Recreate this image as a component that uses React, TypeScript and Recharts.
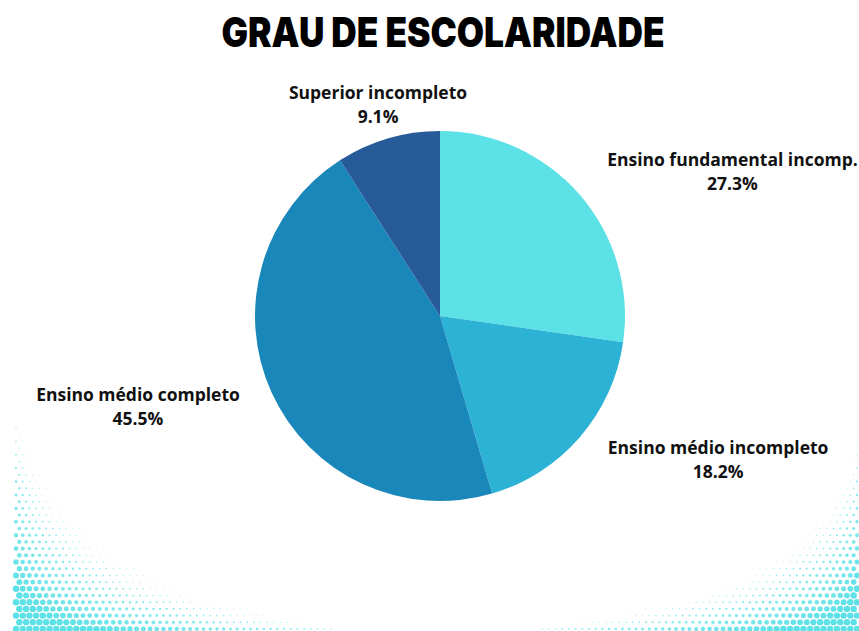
import { PieChart, Pie, Cell } from 'recharts'

const categories = ['Ensino fundamental incomp.', 'Ensino médio incompleto', 'Ensino médio completo', 'Superior incompleto']
const counts = [3, 2, 5, 1]
const percentLabels = ['27.3%', '18.2%', '45.5%', '9.1%']
const colors = ['#5ce1e6', '#2bb2d5', '#1a87bb', '#265a99']

const data = categories.map((name, i) => ({ name, value: counts[i], pct: percentLabels[i] }))

// label layout (horizontal reach of each label around the pie)
const labelRx = [387, 368, 332, 220]
const labelRy = 220
const CX = 440
const CY = 316
const RAD = Math.PI / 180

// halftone decoration in the bottom corners
function Dots() {
  const dots: any[] = []
  const step = 6.7
  const size = (s: number) => Math.min(1, Math.max(0, (1.3 - s) / 1.3) * 1.9)
  for (let row = 0; row * step < 220; row++) {
    const y = 629 - row * step
    const off = row % 2 ? step / 2 : 0
    for (let col = 0; col * step < 320; col++) {
      const xl = 16 + col * step + off
      const fl = size(Math.sqrt((xl - 12) / 300) + Math.sqrt((631 - y) / 185))
      if (fl > 0.1) dots.push(<circle key={'l' + row + '-' + col} cx={xl} cy={y} r={3.2 * fl} fill="#5ce1e6" opacity={0.5 + 0.5 * fl} />)
      const xr = 857 - col * step - off
      const fr = size(Math.sqrt((859 - xr) / 300) + Math.sqrt((631 - y) / 150))
      if (fr > 0.1) dots.push(<circle key={'r' + row + '-' + col} cx={xr} cy={y} r={3.2 * fr} fill="#5ce1e6" opacity={0.5 + 0.5 * fr} />)
    }
  }
  return <g>{dots}</g>
}

const renderLabel = (props: any) => {
  const { midAngle, index, payload } = props
  const x = CX + labelRx[index] * Math.cos(-midAngle * RAD)
  const y = CY + labelRy * Math.sin(-midAngle * RAD)
  return (
    <text x={x} y={y} textAnchor="middle" fontFamily="'Open Sans', sans-serif" fontWeight={700} fontSize={17.5} fill="#111">
      <tspan x={x} dy={-6}>{payload.name}</tspan>
      <tspan x={x} dy={24}>{payload.pct}</tspan>
    </text>
  )
}

export default function App() {
  return (
    <div style={{ position: 'fixed', left: 0, top: 0, width: 859, height: 631, background: '#fff', overflow: 'hidden' }}>
      <svg width={859} height={631} style={{ position: 'absolute', left: 0, top: 0 }}>
        <Dots />
        <text x={443} y={47} textAnchor="middle" fontFamily="Inter, sans-serif" fontWeight={900} fontSize={41}
          textLength={443} lengthAdjust="spacingAndGlyphs" fill="#000">GRAU DE ESCOLARIDADE</text>
      </svg>
      <div style={{ position: 'absolute', left: 0, top: 0 }}>
        <PieChart width={859} height={631} margin={{ top: 0, right: 0, bottom: 0, left: 0 }}>
          <Pie data={data} dataKey="value" nameKey="name" cx={CX} cy={CY} outerRadius={185}
            startAngle={90} endAngle={-270} stroke="none" label={renderLabel} labelLine={false}
            isAnimationActive={false}>
            {data.map((d, i) => <Cell key={d.name} fill={colors[i]} />)}
          </Pie>
        </PieChart>
      </div>
    </div>
  )
}
